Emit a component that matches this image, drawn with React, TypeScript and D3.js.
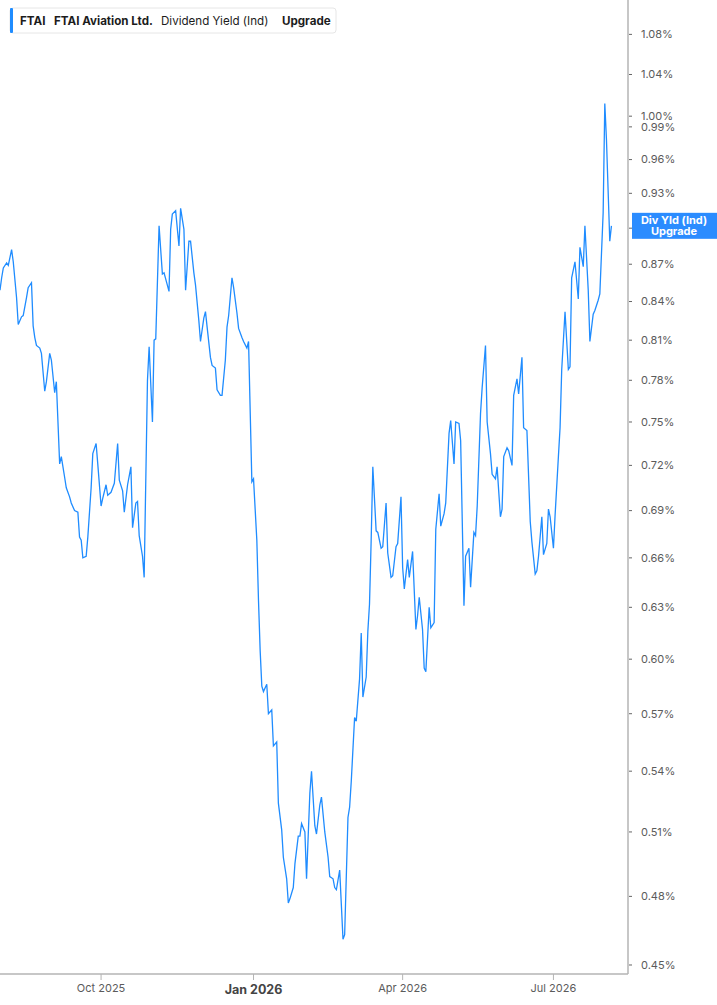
import * as d3 from "d3";

// dividend yield (%), one entry per traced vertex
const yieldSeries: [string, number][] = [
  ["2025-08-01", 0.849], ["2025-08-02", 0.859], ["2025-08-03", 0.867], ["2025-08-05", 0.871],
  ["2025-08-06", 0.869], ["2025-08-08", 0.882], ["2025-08-09", 0.872], ["2025-08-11", 0.843],
  ["2025-08-12", 0.822], ["2025-08-14", 0.828], ["2025-08-15", 0.829], ["2025-08-17", 0.843],
  ["2025-08-18", 0.851], ["2025-08-20", 0.855], ["2025-08-21", 0.821], ["2025-08-22", 0.812],
  ["2025-08-23", 0.806], ["2025-08-25", 0.804], ["2025-08-26", 0.800], ["2025-08-28", 0.772],
  ["2025-08-29", 0.779], ["2025-08-31", 0.800], ["2025-09-01", 0.795], ["2025-09-03", 0.771],
  ["2025-09-04", 0.779], ["2025-09-06", 0.721], ["2025-09-07", 0.726], ["2025-09-09", 0.712],
  ["2025-09-10", 0.705], ["2025-09-12", 0.699], ["2025-09-13", 0.695], ["2025-09-15", 0.690],
  ["2025-09-17", 0.689], ["2025-09-18", 0.673], ["2025-09-19", 0.671], ["2025-09-20", 0.660],
  ["2025-09-22", 0.661], ["2025-09-23", 0.673], ["2025-09-25", 0.705], ["2025-09-26", 0.728],
  ["2025-09-28", 0.735], ["2025-09-29", 0.721], ["2025-10-01", 0.693], ["2025-10-02", 0.698],
  ["2025-10-04", 0.707], ["2025-10-05", 0.700], ["2025-10-07", 0.702], ["2025-10-08", 0.705],
  ["2025-10-09", 0.708], ["2025-10-11", 0.735], ["2025-10-12", 0.710], ["2025-10-14", 0.703],
  ["2025-10-15", 0.689], ["2025-10-17", 0.707], ["2025-10-19", 0.719], ["2025-10-20", 0.679],
  ["2025-10-22", 0.695], ["2025-10-23", 0.696], ["2025-10-24", 0.674], ["2025-10-26", 0.661],
  ["2025-10-27", 0.648], ["2025-10-29", 0.780], ["2025-10-30", 0.805], ["2025-11-01", 0.750],
  ["2025-11-02", 0.810], ["2025-11-03", 0.811], ["2025-11-05", 0.902], ["2025-11-07", 0.862],
  ["2025-11-08", 0.863], ["2025-11-10", 0.853], ["2025-11-11", 0.848], ["2025-11-12", 0.899],
  ["2025-11-13", 0.912], ["2025-11-15", 0.915], ["2025-11-17", 0.885], ["2025-11-18", 0.917],
  ["2025-11-20", 0.899], ["2025-11-21", 0.849], ["2025-11-23", 0.889], ["2025-11-24", 0.889],
  ["2025-11-26", 0.863], ["2025-11-27", 0.853], ["2025-11-29", 0.825], ["2025-11-30", 0.809],
  ["2025-12-02", 0.827], ["2025-12-03", 0.832], ["2025-12-04", 0.820], ["2025-12-06", 0.797],
  ["2025-12-07", 0.791], ["2025-12-09", 0.789], ["2025-12-10", 0.773], ["2025-12-12", 0.769],
  ["2025-12-13", 0.769], ["2025-12-15", 0.795], ["2025-12-16", 0.820], ["2025-12-17", 0.829],
  ["2025-12-19", 0.859], ["2025-12-20", 0.851], ["2025-12-22", 0.831], ["2025-12-23", 0.819],
  ["2025-12-25", 0.812], ["2025-12-26", 0.809], ["2025-12-28", 0.804], ["2025-12-29", 0.809],
  ["2025-12-31", 0.709], ["2026-01-01", 0.711], ["2026-01-03", 0.671], ["2026-01-04", 0.634],
  ["2026-01-05", 0.605], ["2026-01-06", 0.585], ["2026-01-07", 0.582], ["2026-01-09", 0.586],
  ["2026-01-10", 0.570], ["2026-01-12", 0.572], ["2026-01-13", 0.553], ["2026-01-15", 0.555],
  ["2026-01-16", 0.524], ["2026-01-18", 0.511], ["2026-01-19", 0.498], ["2026-01-21", 0.488],
  ["2026-01-22", 0.477], ["2026-01-23", 0.479], ["2026-01-25", 0.484], ["2026-01-26", 0.495],
  ["2026-01-28", 0.508], ["2026-01-29", 0.508], ["2026-01-30", 0.514], ["2026-02-01", 0.510],
  ["2026-02-02", 0.488], ["2026-02-04", 0.529], ["2026-02-05", 0.540], ["2026-02-07", 0.513],
  ["2026-02-08", 0.509], ["2026-02-10", 0.523], ["2026-02-11", 0.527], ["2026-02-13", 0.510],
  ["2026-02-15", 0.498], ["2026-02-16", 0.489], ["2026-02-18", 0.488], ["2026-02-19", 0.484],
  ["2026-02-20", 0.483], ["2026-02-22", 0.492], ["2026-02-24", 0.461], ["2026-02-25", 0.463],
  ["2026-02-27", 0.517], ["2026-02-28", 0.522], ["2026-03-01", 0.535], ["2026-03-03", 0.568],
  ["2026-03-04", 0.566], ["2026-03-06", 0.589], ["2026-03-07", 0.615], ["2026-03-08", 0.579],
  ["2026-03-10", 0.590], ["2026-03-11", 0.616], ["2026-03-12", 0.632], ["2026-03-13", 0.671],
  ["2026-03-14", 0.719], ["2026-03-16", 0.677], ["2026-03-17", 0.676], ["2026-03-19", 0.666],
  ["2026-03-20", 0.667], ["2026-03-22", 0.695], ["2026-03-23", 0.663], ["2026-03-25", 0.648],
  ["2026-03-26", 0.649], ["2026-03-28", 0.667], ["2026-03-29", 0.669], ["2026-03-31", 0.699],
  ["2026-04-01", 0.654], ["2026-04-02", 0.641], ["2026-04-04", 0.659], ["2026-04-05", 0.648],
  ["2026-04-07", 0.664], ["2026-04-09", 0.617], ["2026-04-10", 0.625], ["2026-04-11", 0.636],
  ["2026-04-13", 0.617], ["2026-04-14", 0.595], ["2026-04-15", 0.593], ["2026-04-17", 0.630],
  ["2026-04-18", 0.618], ["2026-04-20", 0.621], ["2026-04-21", 0.678], ["2026-04-23", 0.701],
  ["2026-04-24", 0.680], ["2026-04-26", 0.688], ["2026-04-27", 0.695], ["2026-04-29", 0.742],
  ["2026-04-30", 0.751], ["2026-05-02", 0.721], ["2026-05-03", 0.750], ["2026-05-05", 0.749],
  ["2026-05-06", 0.737], ["2026-05-08", 0.631], ["2026-05-09", 0.661], ["2026-05-11", 0.666],
  ["2026-05-12", 0.642], ["2026-05-14", 0.676], ["2026-05-15", 0.674], ["2026-05-16", 0.693],
  ["2026-05-18", 0.756], ["2026-05-19", 0.775], ["2026-05-21", 0.806], ["2026-05-22", 0.750],
  ["2026-05-24", 0.728], ["2026-05-25", 0.714], ["2026-05-27", 0.711], ["2026-05-28", 0.719],
  ["2026-05-30", 0.686], ["2026-05-31", 0.691], ["2026-06-01", 0.726], ["2026-06-03", 0.732],
  ["2026-06-04", 0.730], ["2026-06-06", 0.720], ["2026-06-07", 0.769], ["2026-06-09", 0.781],
  ["2026-06-10", 0.770], ["2026-06-12", 0.797], ["2026-06-13", 0.746], ["2026-06-15", 0.744],
  ["2026-06-17", 0.683], ["2026-06-18", 0.670], ["2026-06-20", 0.650], ["2026-06-21", 0.652],
  ["2026-06-22", 0.661], ["2026-06-24", 0.686], ["2026-06-25", 0.662], ["2026-06-27", 0.669],
  ["2026-06-28", 0.691], ["2026-06-29", 0.686], ["2026-07-01", 0.666], ["2026-07-02", 0.687],
  ["2026-07-04", 0.726], ["2026-07-05", 0.746], ["2026-07-06", 0.788], ["2026-07-08", 0.832],
  ["2026-07-10", 0.788], ["2026-07-11", 0.790], ["2026-07-12", 0.859], ["2026-07-14", 0.872],
  ["2026-07-16", 0.842], ["2026-07-17", 0.884], ["2026-07-19", 0.868], ["2026-07-20", 0.902],
  ["2026-07-22", 0.849], ["2026-07-23", 0.809], ["2026-07-25", 0.830], ["2026-07-26", 0.833],
  ["2026-07-28", 0.841], ["2026-07-29", 0.846], ["2026-07-31", 0.913], ["2026-08-01", 1.012],
  ["2026-08-02", 0.978], ["2026-08-04", 0.889], ["2026-08-05", 0.902],
];

const yTicks = [
  0.45, 0.48, 0.51, 0.54, 0.57, 0.6, 0.63, 0.66, 0.69, 0.72, 0.75, 0.78, 0.81, 0.84,
  0.87, 0.9, 0.93, 0.96, 0.99, 1.0, 1.04, 1.08,
];

const xTicks = ["2025-10-01", "2026-01-01", "2026-04-01", "2026-07-01"];
const xTickLabels = ["Oct 2025", "Jan 2026", "Apr 2026", "Jul 2026"];

const legendParts = ["FTAI", "FTAI Aviation Ltd.", "Dividend Yield (Ind)", "Upgrade"];

const parse = d3.timeParse("%Y-%m-%d");

export default function App() {
  const width = 717;
  const height = 1005;
  const plotW = 628;
  const plotH = 974;
  const font = "Inter, 'Noto Sans', sans-serif";
  const lineColor = "#1f8cff";

  const points = yieldSeries.map(([d, v]) => ({ date: parse(d) as Date, value: v }));

  const x = d3
    .scaleTime()
    .domain([parse("2025-08-01") as Date, parse("2026-08-15") as Date])
    .range([0, plotW]);

  const y = d3.scaleLog().domain([0.4462, 1.1155]).range([plotH, 0]);

  const line = d3
    .line<{ date: Date; value: number }>()
    .x((d) => x(d.date))
    .y((d) => y(d.value));

  const last = points[points.length - 1];
  const lastY = y(last.value);

  return (
    <svg
      width={width}
      height={height}
      style={{ position: "absolute", left: 0, top: 0, background: "#fff" }}
    >
      <defs>
        <clipPath id="plot">
          <rect x={0} y={0} width={plotW} height={plotH} />
        </clipPath>
      </defs>

      <path
        d={line(points) ?? ""}
        fill="none"
        stroke={lineColor}
        strokeWidth={1.3}
        clipPath="url(#plot)"
      />

      {/* axes frame */}
      <line x1={0} x2={plotW} y1={plotH} y2={plotH} stroke="#b4b4b4" strokeWidth={1.5} />
      <line x1={plotW} x2={plotW} y1={0} y2={plotH} stroke="#b4b4b4" strokeWidth={1.5} />

      {/* y axis */}
      {yTicks.map((t) => (
        <g key={t} transform={`translate(${plotW},${y(t)})`}>
          <line x1={1} x2={4} stroke="#666" strokeWidth={1} />
          <text
            x={13}
            dy="0.35em"
            fontFamily={font}
            fontSize={11}
            fill="#5b5b5b"
          >
            {t.toFixed(2)}%
          </text>
        </g>
      ))}

      {/* x axis */}
      {xTicks.map((t, i) => {
        const bold = xTickLabels[i].startsWith("Jan");
        return (
          <g key={t} transform={`translate(${x(parse(t) as Date)},${plotH})`}>
            <line y1={0} y2={6} stroke="#b4b4b4" strokeWidth={1} />
            <text
              y={bold ? 20 : 18}
              textAnchor="middle"
              fontFamily={font}
              fontSize={bold ? 12.5 : 11}
              fontWeight={bold ? 700 : 400}
              fill={bold ? "#444" : "#5b5b5b"}
            >
              {xTickLabels[i]}
            </text>
          </g>
        );
      })}

      {/* last value badge */}
      <g transform={`translate(632,${lastY - 13})`}>
        <rect width={85} height={26} fill="#2b8cff" />
        <text
          x={42}
          y={11}
          textAnchor="middle"
          fontFamily={font}
          fontSize={11}
          fontWeight={700}
          fill="#fff"
        >
          Div Yld (Ind)
        </text>
        <text
          x={42}
          y={22}
          textAnchor="middle"
          fontFamily={font}
          fontSize={11}
          fontWeight={700}
          fill="#fff"
        >
          Upgrade
        </text>
      </g>

      {/* legend */}
      <g>
        <rect x={10} y={8} width={326} height={25} rx={3} fill="#fff" stroke="#e6e6e6" />
        <rect x={10} y={8} width={3} height={25} rx={1} fill={lineColor} />
        <text y={25} fontFamily={font} fontSize={11.6} fill="#1c1c1c">
          <tspan x={20} fontWeight={700}>{legendParts[0]}</tspan>
          <tspan x={54} fontWeight={700}>{legendParts[1]}</tspan>
          <tspan x={161} fontWeight={400}>{legendParts[2]}</tspan>
          <tspan x={282} fontWeight={700}>{legendParts[3]}</tspan>
        </text>
      </g>
    </svg>
  );
}
